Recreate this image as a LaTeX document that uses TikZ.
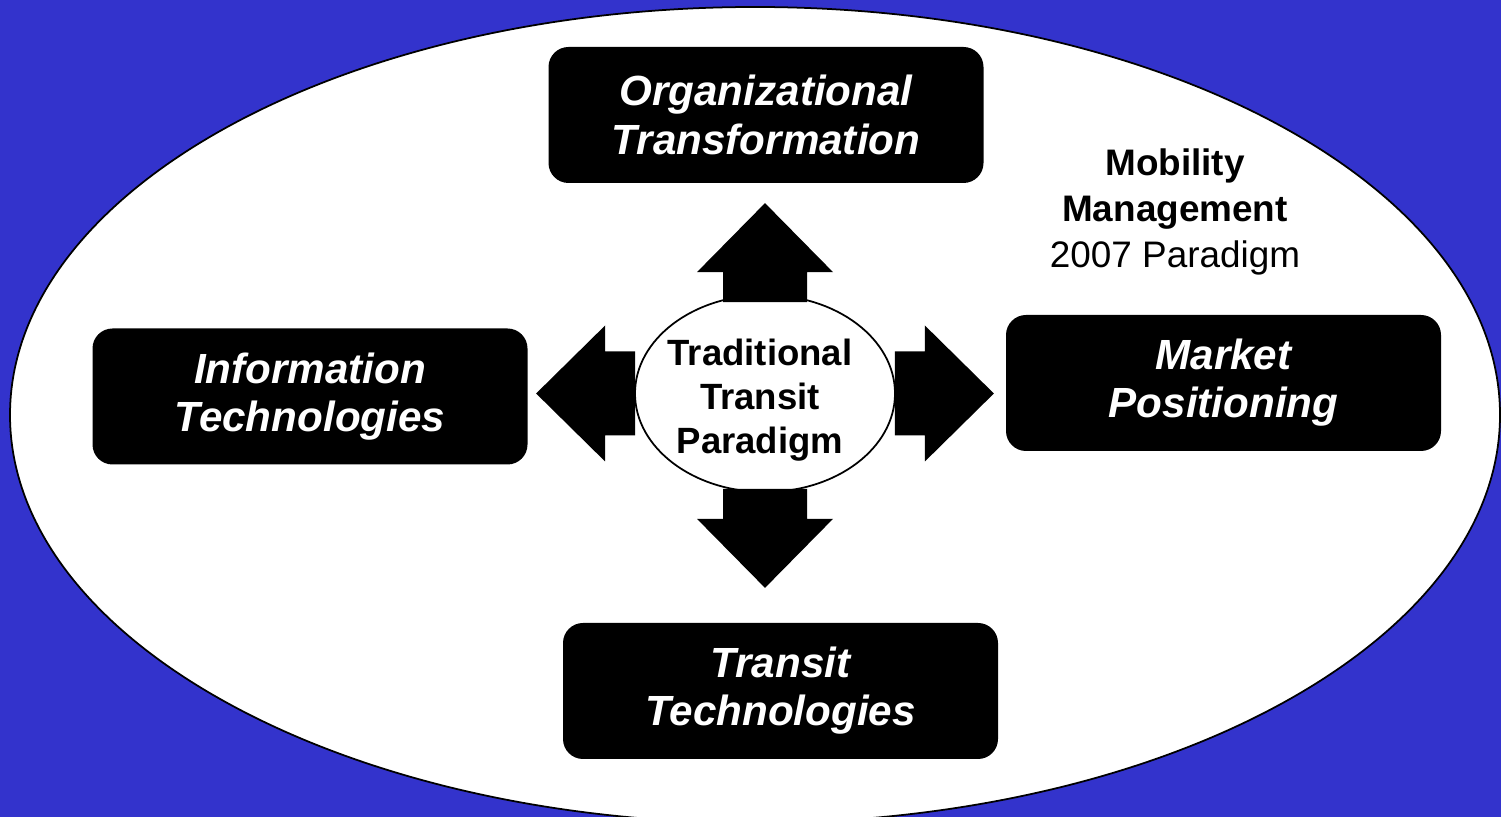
\documentclass[tikz,border=0pt]{standalone}
\usepackage{fontspec}
\setmainfont{Liberation Sans}
\usetikzlibrary{shapes.geometric}
\definecolor{slideblue}{HTML}{3333CC}

\begin{document}
\begin{tikzpicture}[
    box/.style={rectangle, fill=black, text=white, minimum width=4.35cm, minimum height=1.36cm, rounded corners=0.2cm, align=center, font=\fontsize{12}{13.7}\selectfont\bfseries\itshape},
    hub/.style={ellipse, draw, fill=white, line width=0.5pt, minimum width=2.6cm, minimum height=1.97cm, inner sep=0pt},
    hubtext/.style={align=center, font=\fontsize{10.4}{12.5}\selectfont\bfseries},
    blockarrow/.pic={\fill[black] (0,0.42) -- (0.30,0.42) -- (0.30,0.68) -- (0.99,0) -- (0.30,-0.68) -- (0.30,-0.42) -- (0,-0.42) -- cycle;}
]
\clip (0,0) rectangle (15.01,8.17);
\fill[slideblue] (0,0) rectangle (15.01,8.17);
\node[ellipse, draw, fill=white, line width=0.5pt, minimum width=14.9cm, minimum height=8.16cm] (field) at (7.55,4.02) {};

\node[hub] (paradigm) at (7.65,4.235) {};
\node[hubtext] (paradigmtext) at ([xshift=-0.05cm, yshift=-0.065cm]paradigm.center) {Traditional\\Transit\\Paradigm};
\pic[rotate=90] at ([yshift=-0.08cm]paradigm.north) {blockarrow};
\pic[rotate=-90] at ([yshift=0.04cm]paradigm.south) {blockarrow};
\pic[rotate=180] at ([xshift=0.01cm]paradigm.west) {blockarrow};
\pic at ([xshift=-0.01cm]paradigm.east) {blockarrow};

\node[box] (org) at (7.66,7.02) {Organizational\\Transformation};
\node[box] (info) at (3.10,4.205) {Information\\Technologies};
\node[box] (market) at (12.235,4.34) {Market\\Positioning};
\node[box] (transit) at (7.805,1.26) {Transit\\Technologies};

\node[align=center, font=\fontsize{10.5}{13.1}\selectfont] (mobility) at (11.75,6.05) {\textbf{Mobility}\\\textbf{Management}\\2007 Paradigm};
\end{tikzpicture}
\end{document}
